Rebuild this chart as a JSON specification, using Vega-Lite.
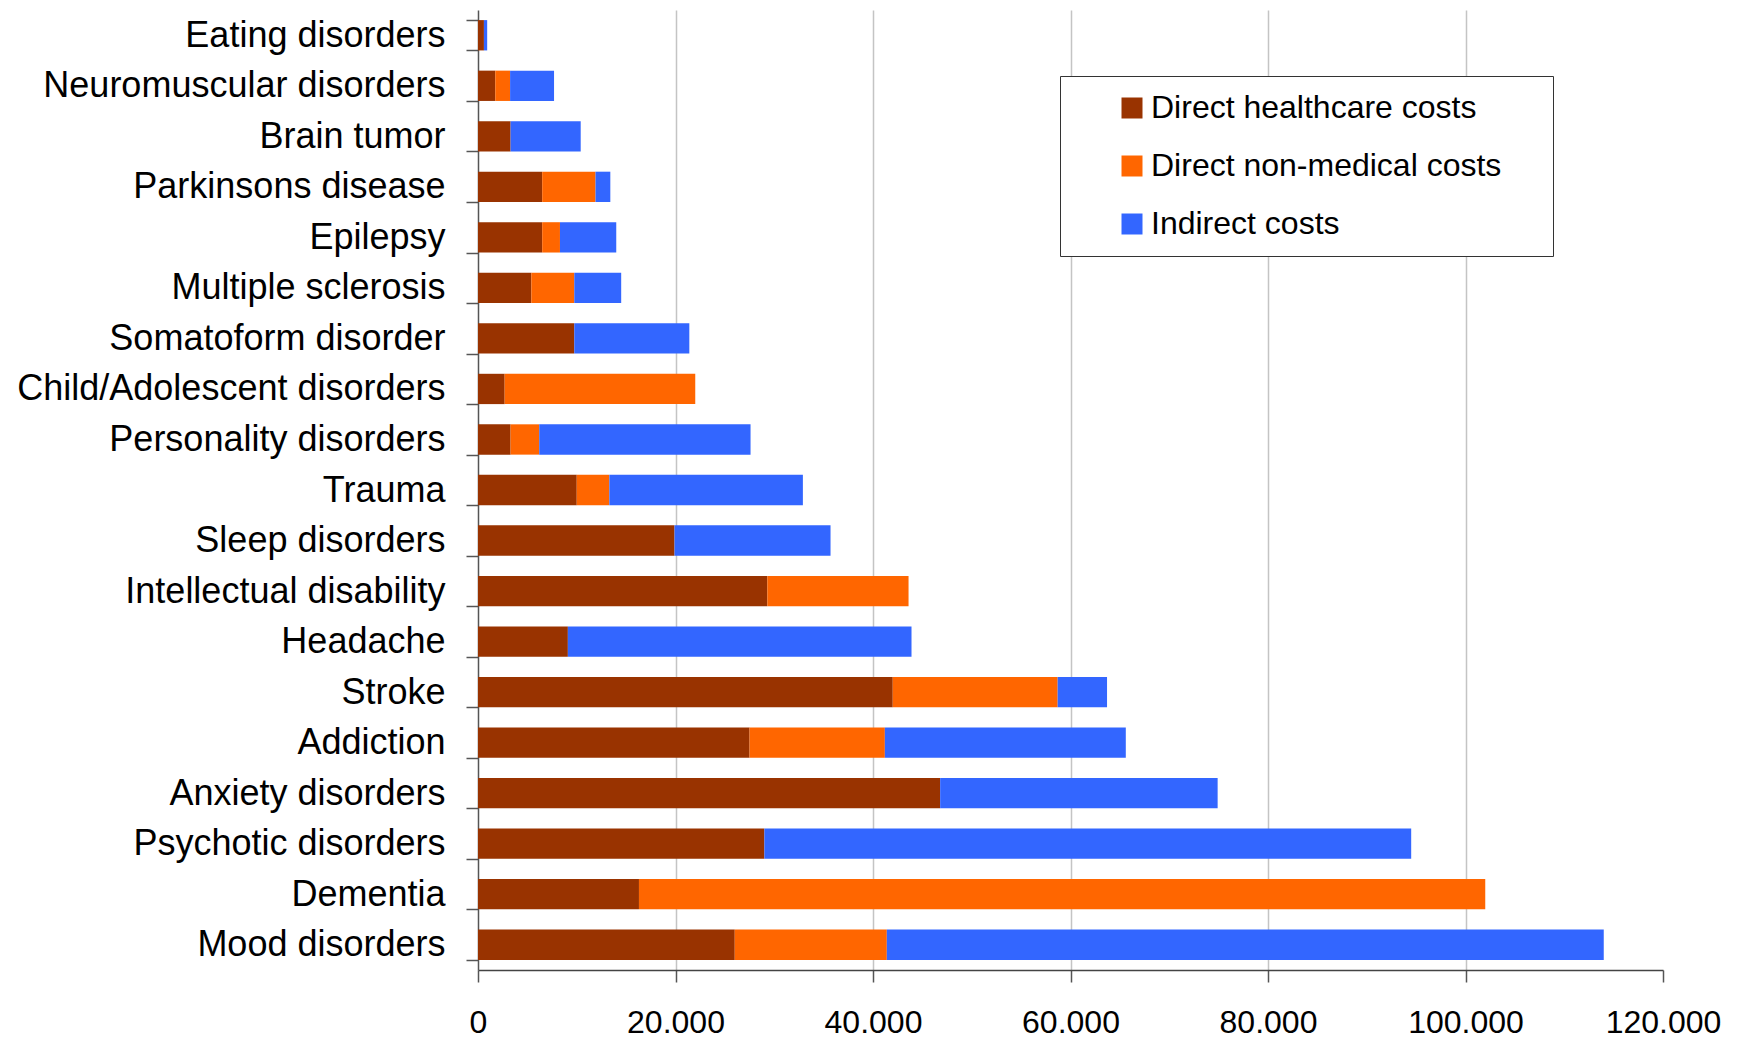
{
  "$schema": "https://vega.github.io/schema/vega-lite/v6.json",
  "width": 1185,
  "height": 960,
  "autosize": {"type": "none"},
  "padding": {"left": 478, "top": 10, "right": 80, "bottom": 72},
  "background": "white",
  "data": {
    "values": [
      {"disorder": "Mood disorders", "type": "Direct healthcare costs", "cost": 26000},
      {"disorder": "Mood disorders", "type": "Direct non-medical costs", "cost": 15400},
      {"disorder": "Mood disorders", "type": "Indirect costs", "cost": 72600},
      {"disorder": "Dementia", "type": "Direct healthcare costs", "cost": 16300},
      {"disorder": "Dementia", "type": "Direct non-medical costs", "cost": 85700},
      {"disorder": "Psychotic disorders", "type": "Direct healthcare costs", "cost": 29000},
      {"disorder": "Psychotic disorders", "type": "Indirect costs", "cost": 65500},
      {"disorder": "Anxiety disorders", "type": "Direct healthcare costs", "cost": 46800},
      {"disorder": "Anxiety disorders", "type": "Indirect costs", "cost": 28100},
      {"disorder": "Addiction", "type": "Direct healthcare costs", "cost": 27500},
      {"disorder": "Addiction", "type": "Direct non-medical costs", "cost": 13700},
      {"disorder": "Addiction", "type": "Indirect costs", "cost": 24400},
      {"disorder": "Stroke", "type": "Direct healthcare costs", "cost": 42000},
      {"disorder": "Stroke", "type": "Direct non-medical costs", "cost": 16700},
      {"disorder": "Stroke", "type": "Indirect costs", "cost": 5000},
      {"disorder": "Headache", "type": "Direct healthcare costs", "cost": 9100},
      {"disorder": "Headache", "type": "Indirect costs", "cost": 34800},
      {"disorder": "Intellectual disability", "type": "Direct healthcare costs", "cost": 29300},
      {"disorder": "Intellectual disability", "type": "Direct non-medical costs", "cost": 14300},
      {"disorder": "Sleep disorders", "type": "Direct healthcare costs", "cost": 19900},
      {"disorder": "Sleep disorders", "type": "Indirect costs", "cost": 15800},
      {"disorder": "Trauma", "type": "Direct healthcare costs", "cost": 10000},
      {"disorder": "Trauma", "type": "Direct non-medical costs", "cost": 3300},
      {"disorder": "Trauma", "type": "Indirect costs", "cost": 19600},
      {"disorder": "Personality disorders", "type": "Direct healthcare costs", "cost": 3300},
      {"disorder": "Personality disorders", "type": "Direct non-medical costs", "cost": 2900},
      {"disorder": "Personality disorders", "type": "Indirect costs", "cost": 21400},
      {"disorder": "Child/Adolescent disorders", "type": "Direct healthcare costs", "cost": 2700},
      {"disorder": "Child/Adolescent disorders", "type": "Direct non-medical costs", "cost": 19300},
      {"disorder": "Somatoform disorder", "type": "Direct healthcare costs", "cost": 9750},
      {"disorder": "Somatoform disorder", "type": "Indirect costs", "cost": 11650},
      {"disorder": "Multiple sclerosis", "type": "Direct healthcare costs", "cost": 5400},
      {"disorder": "Multiple sclerosis", "type": "Direct non-medical costs", "cost": 4350},
      {"disorder": "Multiple sclerosis", "type": "Indirect costs", "cost": 4750},
      {"disorder": "Epilepsy", "type": "Direct healthcare costs", "cost": 6500},
      {"disorder": "Epilepsy", "type": "Direct non-medical costs", "cost": 1800},
      {"disorder": "Epilepsy", "type": "Indirect costs", "cost": 5700},
      {"disorder": "Parkinsons disease", "type": "Direct healthcare costs", "cost": 6500},
      {"disorder": "Parkinsons disease", "type": "Direct non-medical costs", "cost": 5400},
      {"disorder": "Parkinsons disease", "type": "Indirect costs", "cost": 1500},
      {"disorder": "Brain tumor", "type": "Direct healthcare costs", "cost": 3300},
      {"disorder": "Brain tumor", "type": "Indirect costs", "cost": 7100},
      {"disorder": "Neuromuscular disorders", "type": "Direct healthcare costs", "cost": 1750},
      {"disorder": "Neuromuscular disorders", "type": "Direct non-medical costs", "cost": 1500},
      {"disorder": "Neuromuscular disorders", "type": "Indirect costs", "cost": 4450},
      {"disorder": "Eating disorders", "type": "Direct healthcare costs", "cost": 600},
      {"disorder": "Eating disorders", "type": "Indirect costs", "cost": 330}
    ]
  },
  "mark": {"type": "bar"},
  "encoding": {
    "y": {
      "field": "disorder",
      "type": "nominal",
      "sort": ["Eating disorders", "Neuromuscular disorders", "Brain tumor", "Parkinsons disease", "Epilepsy", "Multiple sclerosis", "Somatoform disorder", "Child/Adolescent disorders", "Personality disorders", "Trauma", "Sleep disorders", "Intellectual disability", "Headache", "Stroke", "Addiction", "Anxiety disorders", "Psychotic disorders", "Dementia", "Mood disorders"],
      "scale": {"paddingInner": 0.4, "paddingOuter": 0.2},
      "axis": {
        "title": null,
        "tickBand": "extent",
        "tickSize": 12,
        "tickWidth": 1.5,
        "tickColor": "#555",
        "domainColor": "#555",
        "domainWidth": 1.5,
        "labelPadding": 21,
        "labelFont": "Liberation Sans",
        "labelFontSize": 36,
        "labelColor": "black",
        "labelLimit": 700
      }
    },
    "x": {
      "field": "cost",
      "type": "quantitative",
      "stack": "zero",
      "scale": {"domain": [0, 120000], "nice": false},
      "axis": {
        "title": null,
        "values": [0, 20000, 40000, 60000, 80000, 100000, 120000],
        "labelExpr": "replace(format(datum.value, ','), ',', '.')",
        "tickSize": 12,
        "tickWidth": 1.5,
        "tickColor": "#555",
        "domainColor": "#444",
        "domainWidth": 1.5,
        "labelPadding": 25,
        "labelFont": "Liberation Sans",
        "labelFontSize": 32,
        "labelColor": "black",
        "labelFlush": false,
        "grid": true,
        "gridColor": "#c4c4c4",
        "gridWidth": 1.5,
        "gridOpacity": {"condition": {"test": "datum.value == 0 || datum.value == 120000", "value": 0}, "value": 1}
      }
    },
    "color": {
      "field": "type",
      "type": "nominal",
      "scale": {
        "domain": ["Direct healthcare costs", "Direct non-medical costs", "Indirect costs"],
        "range": ["#993300", "#FF6600", "#3366FF"]
      },
      "legend": {
        "orient": "none",
        "legendX": 582,
        "legendY": 66,
        "title": " ",
        "titleOrient": "right",
        "titlePadding": 36,
        "titleFontSize": 10,
        "padding": 16,
        "symbolType": "square",
        "symbolSize": 441,
        "symbolStrokeWidth": 0,
        "symbolOffset": 40,
        "labelOffset": 3,
        "labelFont": "Liberation Sans",
        "labelFontSize": 32,
        "labelColor": "black",
        "labelLimit": 700,
        "rowPadding": 26,
        "strokeColor": "#333",
        "fillColor": "white"
      }
    }
  },
  "config": {"view": {"stroke": null}}
}
